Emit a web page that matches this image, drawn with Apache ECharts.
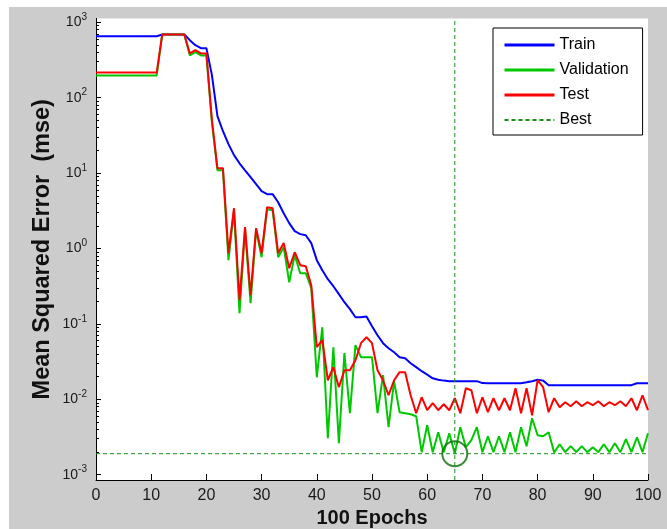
<!DOCTYPE html>
<html><head><meta charset="utf-8">
<script src="https://cdn.jsdelivr.net/npm/echarts@6/dist/echarts.min.js"></script>
<style>html,body{margin:0;padding:0;background:#fff}#c{width:667px;height:529px}</style>
</head><body><div id="c"></div><script>
// ---- data (mean squared error per epoch, epochs 0..100) ----
const trainMSE = [
  654,654,654,654,654,654,654,654,654,654,654,654,
  689,689,689,689,689,
  579,497,454,454,199,
  56.8,35.9,24.2,17.3,13.5,
  10.9,8.82,7.13,5.75,5.25,
  5.25,4.11,2.94,2.17,1.70,
  1.55,1.50,1.18,0.70,0.516,
  0.392,0.316,0.248,0.194,0.157,
  0.1227,0.1227,0.125,0.0932,0.0708,
  0.0555,0.0476,0.0421,0.0362,0.0351,
  0.0301,0.0267,0.0236,0.0212,0.0190,
  0.0182,0.0177,0.0174,0.0174,0.0174,
  0.0174,0.0174,0.0174,0.0164,0.0163,
  0.0163,0.0163,0.0163,0.0163,0.0163,
  0.0163,0.0168,0.0174,0.0182,0.0177,
  0.0154,0.0154,0.0154,0.0154,0.0154,0.0154,0.0154,0.0154,
  0.0154,0.0154,0.0154,0.0154,0.0154,0.0154,0.0154,0.0154,
  0.0163,0.0163,0.0163
];
const valMSE = [
  197,197,197,197,197,197,197,197,197,197,197,197,
  689,689,689,689,689,
  363,401,363,363,47.3,
  10.9,10.9,0.70,3.22,0.1386,
  1.80,0.188,1.75,0.767,3.32,
  3.22,0.767,1.04,0.357,0.815,
  0.470,0.470,0.297,0.0196,0.0904,
  0.00305,0.0491,0.00262,0.0409,0.00654,
  0.0522,0.0362,0.0362,0.0362,0.00654,
  0.0209,0.00427,0.0174,0.00674,0.00654,
  0.00634,0.00597,0.00199,0.00453,0.00199,
  0.00366,0.00199,0.00355,0.0019,0.00427,
  0.00232,0.00287,0.00427,0.00199,0.00324,
  0.00199,0.00324,0.00199,0.00366,0.00199,
  0.00427,0.00239,0.00561,0.00334,0.00324,
  0.00366,0.00197,0.00254,0.00199,0.00239,
  0.00199,0.00239,0.00199,0.00232,0.00199,
  0.00254,0.00199,0.00262,0.00199,0.00296,
  0.00199,0.00314,0.00199,0.00355
];
const testMSE = [
  216,216,216,216,216,216,216,216,216,216,216,216,
  689,689,689,689,689,
  386,427,386,386,50.3,
  11.6,11.6,0.866,3.42,0.206,
  1.92,0.240,1.86,0.866,3.53,
  3.42,0.866,1.18,0.548,0.893,
  0.600,0.582,0.326,0.0491,0.0608,
  0.0179,0.0267,0.01447,0.0243,0.0243,
  0.0330,0.0555,0.0666,0.0555,0.0243,
  0.0179,0.01133,0.0179,0.0229,0.0229,
  0.01133,0.00654,0.01066,0.00717,0.00888,
  0.00717,0.00861,0.00717,0.01034,0.00654,
  0.01404,0.0132,0.00654,0.01066,0.00674,
  0.01034,0.00717,0.01034,0.00717,0.01404,
  0.00654,0.01404,0.00615,0.0179,0.01447,
  0.00674,0.01034,0.00786,0.00915,0.0081,
  0.00944,0.0081,0.00915,0.00835,0.00944,
  0.0081,0.00915,0.00835,0.00944,0.0081,
  0.01034,0.00717,0.01133,0.00717
];
const bestEpoch = 65;
const bestMSE = 0.0019;
const xTicks = [0,10,20,30,40,50,60,70,80,90,100];
const yDecades = [-3,-2,-1,0,1,2,3];
const yMinLog = -3.07, yMaxLog = 3.05;

const FONT = '"Liberation Sans", Arial, Helvetica, sans-serif';
const lg = v => Math.log10(v);
const toPts = arr => arr.map((v, i) => [i, lg(v)]);

const minors = [];
for (let n = -3; n <= 2; n++) for (let k = 2; k <= 9; k++) minors.push(n + Math.log10(k));

const chart = echarts.init(document.getElementById('c'), null, {renderer: 'canvas'});
const option = {
  animation: false,
  backgroundColor: '#cccccc',
  graphic: [
    {type: 'rect', shape: {x: 0, y: 0, width: 667, height: 7}, style: {fill: '#fff'}, silent: true},
    {type: 'rect', shape: {x: 0, y: 0, width: 9, height: 529}, style: {fill: '#fff'}, silent: true}
  ],
  grid: {left: 96, right: 19, top: 18.5, bottom: 49, show: true, backgroundColor: '#fff', borderWidth: 0,
    containLabel: false, outerBoundsMode: 'none'},
  legend: {
    orient: 'vertical', left: 493, top: 28,
    data: [
      {name: 'Train', lineStyle: {width: 3}},
      {name: 'Validation', lineStyle: {width: 3}},
      {name: 'Test', lineStyle: {width: 3}},
      {name: 'Best'}
    ],
    itemWidth: 50, itemHeight: 14, itemGap: 9,
    padding: [9, 14, 7, 10],
    backgroundColor: '#fff', borderColor: '#000', borderWidth: 1, borderRadius: 0,
    itemStyle: {opacity: 0},
    textStyle: {fontSize: 16, color: '#000', fontFamily: FONT},
    selectedMode: false
  },
  xAxis: {
    type: 'value', min: 0, max: 100, interval: 10,
    axisLine: {show: true, onZero: false, lineStyle: {color: '#000', width: 1}},
    axisTick: {show: true, inside: true, length: 6, customValues: xTicks, lineStyle: {color: '#000', width: 1}},
    axisLabel: {fontSize: 16, color: '#1a1a1a', fontFamily: FONT, margin: 8,
      customValues: xTicks},
    splitLine: {show: false},
    name: '100 Epochs', nameLocation: 'middle', nameGap: 28, nameMoveOverlap: false,
    nameTextStyle: {fontSize: 20, fontWeight: 'bold', color: '#111', fontFamily: FONT}
  },
  yAxis: [{
    type: 'value', min: yMinLog, max: yMaxLog,
    axisLine: {show: true, onZero: false, lineStyle: {color: '#000', width: 1}},
    axisTick: {show: true, inside: true, length: 5, customValues: yDecades, lineStyle: {color: '#000', width: 1}},
    axisLabel: {
      customValues: yDecades, margin: 9,
      formatter: v => '{b|10}{s|' + Math.round(v) + '}',
      rich: {
        b: {fontSize: 14, color: '#1a1a1a', fontFamily: FONT},
        s: {fontSize: 10, color: '#1a1a1a', fontFamily: FONT, padding: [0, 0, 10, 0]}
      }
    },
    splitLine: {show: false},
    name: 'Mean Squared Error  (mse)', nameLocation: 'middle', nameGap: 41, nameRotate: 90,
    nameMoveOverlap: false,
    nameTextStyle: {fontSize: 23.5, fontWeight: 'bold', color: '#111', fontFamily: FONT}
  }, {
    type: 'value', min: yMinLog, max: yMaxLog, position: 'left',
    axisLine: {show: true, onZero: false, lineStyle: {color: '#000', width: 1}},
    axisTick: {show: true, inside: true, length: 3, customValues: minors, lineStyle: {color: '#000', width: 1}},
    axisLabel: {show: false},
    splitLine: {show: false}
  }],
  series: [
    {name: 'Train', type: 'line', data: toPts(trainMSE), symbol: 'none', z: 2,
      lineStyle: {color: '#0000ff', width: 2}, itemStyle: {color: '#0000ff'}},
    {name: 'Validation', type: 'line', data: toPts(valMSE), symbol: 'none', z: 3,
      lineStyle: {color: '#00c800', width: 2}, itemStyle: {color: '#00c800'}},
    {name: 'Test', type: 'line', data: toPts(testMSE), symbol: 'none', z: 4,
      lineStyle: {color: '#ff0000', width: 2}, itemStyle: {color: '#ff0000'}},
    {name: 'Best', type: 'line', data: [[0, lg(bestMSE)], [100, lg(bestMSE)]], symbol: 'none', z: 5,
      lineStyle: {color: '#1a8f1a', width: 1, type: [4, 3]}, itemStyle: {color: '#1a8f1a'}},
    {name: 'Best', type: 'line', data: [[bestEpoch, yMinLog], [bestEpoch, yMaxLog]], symbol: 'none', z: 5,
      lineStyle: {color: '#1a8f1a', width: 1, type: [4, 3]}, itemStyle: {color: '#1a8f1a'}},
    {name: 'bestPoint', type: 'scatter', data: [[bestEpoch, lg(bestMSE)]], symbol: 'circle', symbolSize: 25, z: 6,
      itemStyle: {color: 'rgba(0,0,0,0)', borderColor: '#0a6e0a', borderWidth: 2}}
  ]
};
chart.setOption(option);
</script></body></html>
